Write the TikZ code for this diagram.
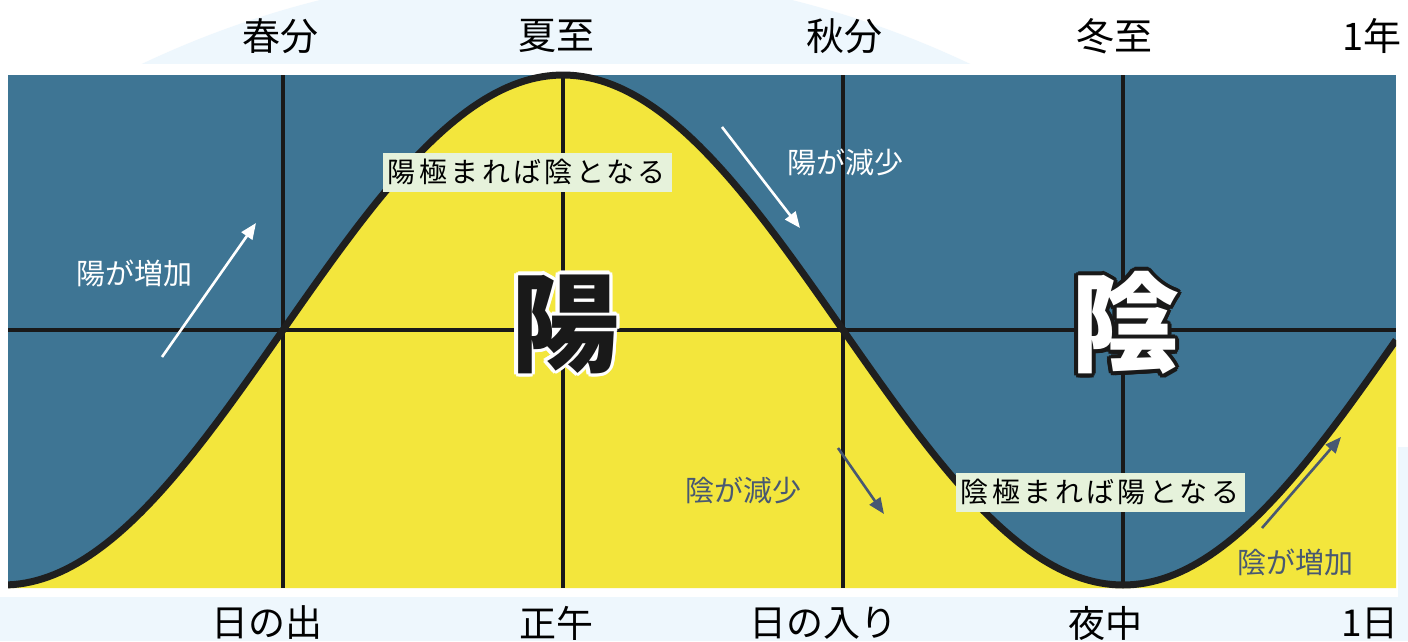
\documentclass[tikz,border=0pt]{standalone}
\usepackage{fontspec}
\setmainfont{Noto Sans CJK JP}
\newfontfamily\jp{Noto Sans CJK JP}
\newfontfamily\jpsp{Noto Sans CJK JP}[LetterSpace=12]
\usetikzlibrary{arrows.meta}
\definecolor{panelblue}{HTML}{3E7594}
\definecolor{yolk}{HTML}{F3E63C}
\definecolor{paleblue}{HTML}{EEF7FD}
\definecolor{notebg}{HTML}{E6F2DB}
\definecolor{slate}{HTML}{485872}
\tikzset{
  axislabel/.style={inner sep=0pt, font=\jp\fontsize{38}{40}\selectfont},
  botlabel/.style={inner sep=0pt, font=\jp\fontsize{37}{40}\selectfont},
  gridline/.style={line width=3.4pt, black!90},
  wave/.style={line width=7pt, black!88},
  wlabel/.style={inner sep=0pt, text=white, font=\jp\fontsize{29}{30}\selectfont},
  slabel/.style={inner sep=0pt, text=slate, font=\jp\fontsize{29}{30}\selectfont},
  note/.style={fill=notebg, inner sep=0pt, minimum width=289pt, minimum height=39pt, font=\jpsp\fontsize{28}{30}\selectfont},
  warrow/.style={white, line width=2.6pt, -{Triangle[length=16pt,width=13pt]}},
  sarrow/.style={slate, line width=2.6pt, -{Triangle[length=16pt,width=13pt]}},
  bigch/.style={inner sep=0pt, font=\jp\bfseries\fontsize{108}{110}\selectfont},
}
\begin{document}
\begin{tikzpicture}[x=1pt,y=-1pt]
\useasboundingbox (0,0) rectangle (1408,641);
\fill[white] (0,0) rectangle (1408,641);
\begin{scope}
  \clip (0,0) rectangle (1408,63);
  \fill[paleblue] (556,938) circle[radius=967];
\end{scope}
\fill[paleblue] (0,597) rectangle (1408,641);
\fill[paleblue] (1398,447) rectangle (1408,641);
% panel
\fill[panelblue] (8,75) rectangle (1396,588);
\fill[yolk] (8,588) -- plot[domain=8:1396,samples=240] (\x,{330-255*sin((\x-283)*0.32142857)}) -- (1396,588) -- cycle;
% grid
\draw[gridline] (283,75) -- (283,588);
\draw[gridline] (563,75) -- (563,588);
\draw[gridline] (843,75) -- (843,588);
\draw[gridline] (1123,75) -- (1123,588);
\draw[gridline] (8,330) -- (1396,330);
% wave
\begin{scope}
  \clip (8,60) rectangle (1396,600);
  \draw[wave] plot[domain=8:1396,samples=240] (\x,{330-255*sin((\x-283)*0.32142857)});
\end{scope}
% axis labels
\node[axislabel] (t1) at (280,36) {春分};
\node[axislabel] (t2) at (556,36) {夏至};
\node[axislabel] (t3) at (844,36) {秋分};
\node[axislabel] (t4) at (1114,36) {冬至};
\node[axislabel] (t5) at (1372,36) {1年};
\node[botlabel] (b1) at (267,623) {日の出};
\node[botlabel] (b2) at (556,623) {正午};
\node[botlabel] (b3) at (823,623) {日の入り};
\node[botlabel] (b4) at (1105,623) {夜中};
\node[botlabel] (b5) at (1370,623) {1日};
% notes
\node[note] (n1) at (527,172) {陽極まれば陰となる};
\node[note] (n2) at (1100,492) {陰極まれば陽となる};
% small labels
\node[wlabel] (l1) at (134,273) {陽が増加};
\node[wlabel] (l2) at (845,162) {陽が減少};
\node[slabel] (l3) at (743,490) {陰が減少};
\node[slabel] (l4) at (1295,562) {陰が増加};
% arrows
\coordinate (a1s) at (162,357); \coordinate (a1e) at (256,223);
\coordinate (a2s) at (722,127); \coordinate (a2e) at (800,228);
\coordinate (a3s) at (838,448); \coordinate (a3e) at (884,514);
\coordinate (a4s) at (1262,528); \coordinate (a4e) at (1341,437);
\draw[warrow] (a1s) -- (a1e);
\draw[warrow] (a2s) -- (a2e);
\draw[sarrow] (a3s) -- (a3e);
\draw[sarrow] (a4s) -- (a4e);
% big characters
\foreach \a in {0,30,...,330}
  \node[bigch, text=white] at ([shift={(\a:3.5)}]565,324) {陽};
\node[bigch, text=black!90] (yang) at (565,324) {陽};
\foreach \a in {0,30,...,330}
  \node[bigch, text=black!90] at ([shift={(\a:4)}]1125,323) {陰};
\node[bigch, text=white] (yin) at (1125,323) {陰};
\end{tikzpicture}
\end{document}
